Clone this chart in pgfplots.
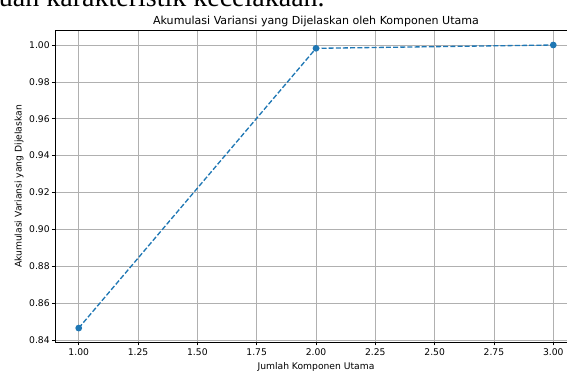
\documentclass[border=0pt]{standalone}
\usepackage{pgfplots}
\pgfplotsset{compat=1.18}
\usepackage{fontspec}
\setmainfont{DejaVu Sans}
\newfontfamily\seriffont{Liberation Serif}
\definecolor{mplblue}{HTML}{1F77B4}
\definecolor{mplgrid}{HTML}{B0B0B0}
\begin{document}
\begin{tikzpicture}
\useasboundingbox (0,0) rectangle (425.25pt,-279.75pt);
\clip (0,0) rectangle (425.25pt,-279.75pt);
\node[anchor=base west, inner sep=0pt, font=\seriffont\fontsize{21}{21}\selectfont] at (-1pt,-5.2pt) {uan karakteristik kecelakaan.};
\begin{axis}[
  at={(41.25pt,-256.7pt)}, anchor=south west,
  scale only axis, width=391.5pt, height=233.6pt,
  xmin=0.9, xmax=3.1, ymin=0.8388, ymax=1.0077,
  xtick={1,1.25,1.5,1.75,2,2.25,2.5,2.75,3},
  ytick={0.84,0.86,0.88,0.90,0.92,0.94,0.96,0.98,1.00},
  scaled ticks=false,
  /pgf/number format/.cd, fixed, fixed zerofill, precision=2, assume math mode=true,
  /pgfplots/.cd,
  grid=major,
  major grid style={color=mplgrid, line width=0.54pt},
  axis line style={black, line width=0.54pt},
  tick align=outside,
  major tick length=2.4pt,
  tick style={black, line width=0.54pt},
  xtick pos=bottom, ytick pos=left,
  tick label style={font=\fontsize{6.9}{8}\selectfont, inner sep=0pt},
  xticklabel style={yshift=-2.2pt},
  yticklabel style={xshift=-1.4pt},
  every axis title shift=0pt,
  title={Akumulasi Variansi yang Dijelaskan oleh Komponen Utama},
  title style={at={(axis description cs:0.5,1.0193)}, anchor=base, inner sep=0pt, font=\fontsize{8.3}{10}\selectfont},
  xlabel={Jumlah Komponen Utama},
  xlabel style={at={(axis description cs:0.5,-0.0867)}, anchor=base, inner sep=0pt, font=\fontsize{6.9}{8}\selectfont},
  ylabel={Akumulasi Variansi yang Dijelaskan},
  ylabel style={at={(axis description cs:-0.069,0.5)}, anchor=center, inner sep=0pt, rotate=0, font=\fontsize{6.9}{8}\selectfont},
]
\addplot[color=mplblue, line width=1pt, dash pattern=on 3.75pt off 1.62pt,
  mark=*, mark size=2pt, mark options={solid, fill=mplblue, draw=mplblue}]
  coordinates {(1,0.8465) (2,0.9982) (3,1.0000)};
\end{axis}
\end{tikzpicture}
\end{document}
